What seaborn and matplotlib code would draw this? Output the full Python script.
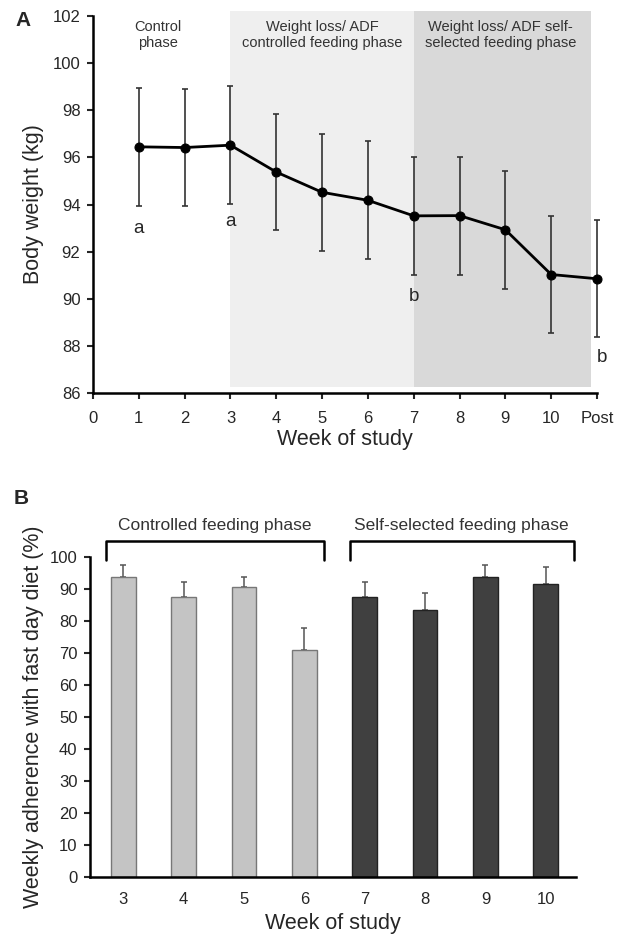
import matplotlib
matplotlib.use('Agg')
import matplotlib.pyplot as plt
import seaborn as sns
import pandas as pd
import numpy as np

# panel A data: body weight by week
weeks_a = [1, 2, 3, 4, 5, 6, 7, 8, 9, 10, 11]
week_a_labels = ['0', '1', '2', '3', '4', '5', '6', '7', '8', '9', '10', 'Post']
weight = [96.45, 96.42, 96.52, 95.38, 94.52, 94.18, 93.52, 93.53, 92.93, 91.03, 90.85]
weight_sd = [2.5, 2.5, 2.5, 2.48, 2.48, 2.5, 2.5, 2.5, 2.5, 2.5, 2.48]
letters = ['a', 'a', 'b', 'b']
letter_x = [1, 3, 7, 11.1]
letter_y = [93.0, 93.3, 90.1, 87.5]

# panel B data: weekly adherence
weeks_b = ['3', '4', '5', '6', '7', '8', '9', '10']
adherence = [93.8, 87.6, 90.7, 70.9, 87.6, 83.4, 93.8, 91.6]
adherence_se = [3.7, 4.5, 3.1, 6.8, 4.7, 5.4, 3.7, 5.2]
phase_b = ['controlled'] * 4 + ['self'] * 4

sns.set_style('white')
plt.rcParams['font.family'] = ['Liberation Sans', 'DejaVu Sans']

fig = plt.figure(figsize=(6.17, 9.4), dpi=100)

# ---- panel A
ax1 = fig.add_axes([0.1507, 0.5819, 0.8169, 0.401])
ax1.axvspan(3, 7, ymin=0.015, ymax=1.013, color='#efefef', zorder=0, lw=0, clip_on=False)
ax1.axvspan(7, 10.87, ymin=0.015, ymax=1.013, color='#d9d9d9', zorder=0, lw=0, clip_on=False)

df_a = pd.DataFrame({'week': weeks_a, 'weight': weight})
ax1.errorbar(weeks_a, weight, yerr=weight_sd, fmt='none', ecolor='#333333',
             elinewidth=1.2, capsize=2.5, capthick=1.2, zorder=2, clip_on=False)
sns.lineplot(data=df_a, x='week', y='weight', ax=ax1, color='black', lw=2,
             marker='o', markersize=6.5, markeredgecolor='black', zorder=3, clip_on=False)

for t, xx, yy in zip(letters, letter_x, letter_y):
    ax1.text(xx, yy, t, ha='center', va='center', fontsize=13.5)

phase_kw = dict(ha='center', va='center', fontsize=10.5, color='#333333', linespacing=1.2)
ax1.text(1.42, 101.2, 'Control\nphase', **phase_kw)
ax1.text(5, 101.2, 'Weight loss/ ADF\ncontrolled feeding phase', **phase_kw)
ax1.text(8.9, 101.2, 'Weight loss/ ADF self-\nselected feeding phase', **phase_kw)

ax1.set_xlim(0, 11)
ax1.set_ylim(86, 102)
ax1.set_yticks(range(86, 103, 2))
ax1.set_xticks(range(0, 12))
ax1.set_xticklabels(week_a_labels)
ax1.set_xlabel('Week of study', fontsize=15.5, labelpad=2)
ax1.set_ylabel('Body weight (kg)', fontsize=15.5, labelpad=6)
sns.despine(ax=ax1)
for s in ['left', 'bottom']:
    ax1.spines[s].set_linewidth(1.8)
    ax1.spines[s].set_color('black')
ax1.tick_params(axis='both', direction='out', length=4, width=1.5, labelsize=12,
                left=True, bottom=True)
ax1.tick_params(axis='x', pad=9)
ax1.tick_params(axis='y', pad=5)
ax1.set_facecolor('none')
fig.text(0.025, 0.978, 'A', fontsize=15, fontweight='bold', ha='left', va='center')

# ---- panel B
ax2 = fig.add_axes([0.1459, 0.0673, 0.7877, 0.3401])
df_b = pd.DataFrame({'week': weeks_b, 'adherence': adherence, 'phase': phase_b})
sns.barplot(data=df_b, x='week', y='adherence', hue='phase', ax=ax2,
            palette={'controlled': '#c4c4c4', 'self': '#404040'}, width=0.41,
            dodge=False, legend=False, zorder=2)
for bar, ph in zip(ax2.patches, phase_b):
    bar.set_edgecolor('#777777' if ph == 'controlled' else '#222222')
    bar.set_linewidth(1.0)
ax2.errorbar(range(len(weeks_b)), adherence, yerr=[np.zeros(len(adherence_se)), adherence_se],
             fmt='none', ecolor='#555555', elinewidth=1.1, capsize=2, capthick=1.1, zorder=1)

# phase brackets
brackets = [(-0.28, 3.32, 'Controlled feeding phase'), (3.75, 7.46, 'Self-selected feeding phase')]
for x0, x1, lab in brackets:
    ax2.plot([x0, x0, x1, x1], [99, 105, 105, 99], color='black', lw=1.8, clip_on=False)
    ax2.text((x0 + x1) / 2, 110, lab, ha='center', va='center', fontsize=12.5, color='#333333')

ax2.set_xlim(-0.55, 7.5)
ax2.set_ylim(0, 100)
ax2.set_yticks(range(0, 101, 10))
ax2.set_xlabel('Week of study', fontsize=15.5, labelpad=4)
ax2.set_ylabel('Weekly adherence with fast day diet (%)', fontsize=15.5, labelpad=4)
sns.despine(ax=ax2)
for s in ['left', 'bottom']:
    ax2.spines[s].set_linewidth(1.8)
    ax2.spines[s].set_color('black')
ax2.tick_params(axis='y', direction='out', length=4, width=1.5, labelsize=12, left=True, pad=5)
ax2.tick_params(axis='x', length=0, labelsize=12, pad=11)
fig.text(0.022, 0.47, 'B', fontsize=15, fontweight='bold', ha='left', va='center')

fig.savefig('out.png', dpi=100)
